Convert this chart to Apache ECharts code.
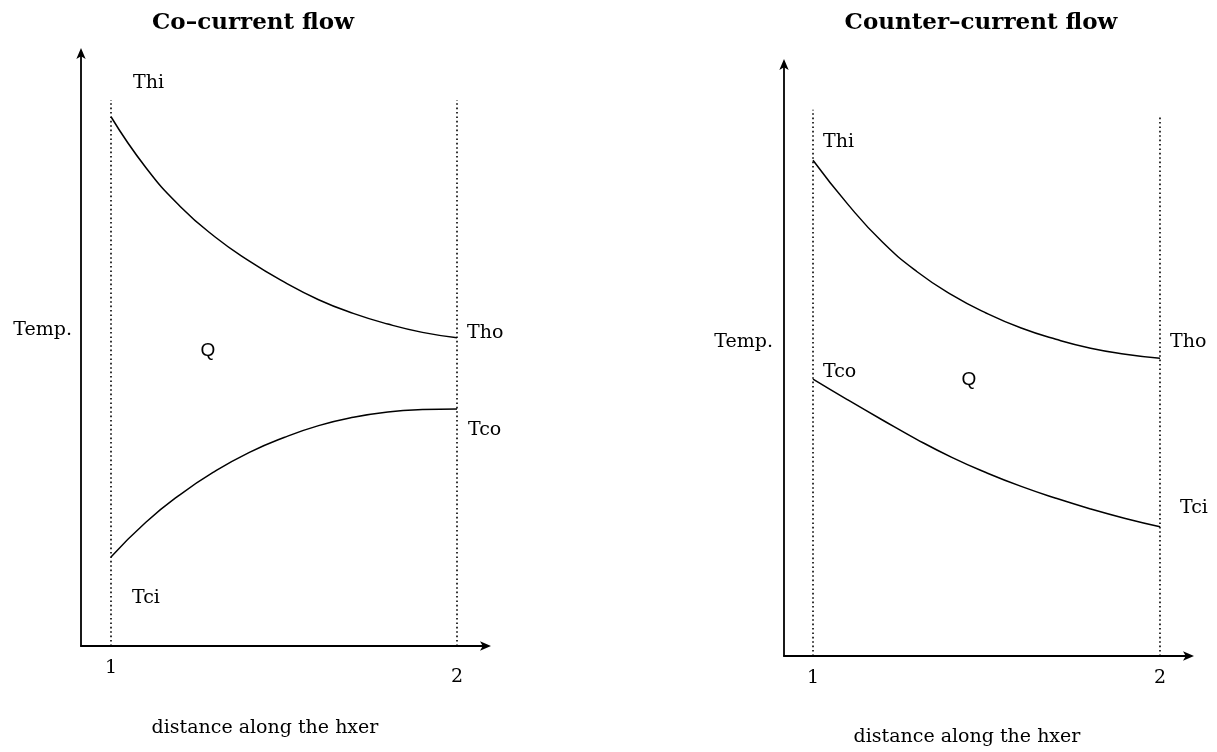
<!DOCTYPE html>
<html><head><meta charset="utf-8">
<script src="https://cdn.jsdelivr.net/npm/echarts@6/dist/echarts.min.js"></script>
<style>html,body{margin:0;padding:0;background:#fff}#c{width:1217px;height:752px}</style>
</head><body><div id="c"></div>
<script>
// distance along the exchanger (position 1 -> position 2)
const positions = [1.0, 1.1, 1.2, 1.3, 1.4, 1.5, 1.6, 1.7, 1.8, 1.9, 2.0];
// co-current flow temperatures (arbitrary units, axis 0-100)
const coHot = [89.1, 80.6, 74.0, 68.9, 64.8, 61.3, 58.3, 56.0, 54.2, 52.8, 51.9];
const coCold = [15.0, 20.8, 25.5, 29.4, 32.6, 35.1, 37.1, 38.5, 39.4, 39.8, 39.9];
// counter-current flow temperatures
const counterHot = [83.6, 76.2, 69.8, 64.8, 60.9, 57.8, 55.3, 53.4, 51.9, 50.9, 50.2];
const counterCold = [46.7, 43.2, 39.8, 36.5, 33.5, 30.9, 28.6, 26.6, 24.8, 23.2, 21.8];
// dotted guide lines at the two ends (top value of each guide)
const guideX = [1, 2];
const coGuideTop = [91.9, 91.9];
const counterGuideTop = [92.1, 91.2];
const xTicks = [1, 2];
const titles = ['Co–current flow', 'Counter–current flow'];
const yName = 'Temp.';
const xName = 'distance along the hxer';

const SERIF = '"DejaVu Serif", "Liberation Serif", serif';
const pair = (xs, ys) => xs.map((x, i) => [x, ys[i]]);

function curve(idx, ys) {
  return {
    type: 'line', xAxisIndex: idx, yAxisIndex: idx, data: pair(positions, ys),
    smooth: 0.5, symbol: 'none', silent: true,
    lineStyle: { color: '#000', width: 1.5 }
  };
}
function guide(idx, x, top) {
  return {
    type: 'line', xAxisIndex: idx, yAxisIndex: idx, data: [[x, 0], [x, top]],
    symbol: 'none', silent: true,
    lineStyle: { color: '#000', width: 1.6, type: [1.6, 2.8] }
  };
}
function xAxis(idx, min, max, padTwo) {
  const base = { fontFamily: SERIF, fontSize: 19, color: '#000' };
  return {
    type: 'value', gridIndex: idx, min: min, max: max,
    axisLine: { show: true, symbol: ['none', 'arrow'], symbolSize: [7, 11], symbolOffset: [0, 4],
      lineStyle: { color: '#000', width: 1.8 } },
    axisTick: { show: false }, splitLine: { show: false },
    axisLabel: { customValues: xTicks, margin: 13, color: '#000', fontFamily: SERIF, fontSize: 19,
      formatter: v => (v === 2 ? '{b|2}' : '{a|1}'),
      rich: { a: base, b: Object.assign({}, base, { padding: [padTwo, 0, 0, 0] }) } }
  };
}
function yAxis(idx) {
  return {
    type: 'value', gridIndex: idx, min: 0, max: 100,
    axisLine: { show: true, symbol: ['none', 'arrow'], symbolSize: [7, 11], symbolOffset: [0, 4],
      lineStyle: { color: '#000', width: 1.8 } },
    axisTick: { show: false }, splitLine: { show: false }, axisLabel: { show: false }
  };
}
function txt(text, x, y, align, font) {
  return {
    type: 'text', x: x, y: y, silent: true,
    style: { text: text, fill: '#000', font: font || ('19px ' + SERIF),
      align: align || 'left', textAlign: align || 'left', verticalAlign: 'middle', textVerticalAlign: 'middle' }
  };
}
const QFONT = '19px "Liberation Sans", Arial, sans-serif';

const chart = echarts.init(document.getElementById('c'), null, { renderer: 'canvas' });
chart.setOption({
  animation: false,
  backgroundColor: '#fff',
  grid: [
    { left: 81, top: 52, width: 406, height: 594 },
    { left: 784, top: 63, width: 406, height: 593 }
  ],
  xAxis: [
    xAxis(0, 0.9133, 2.0867, 9),
    xAxis(1, 0.9164, 2.0865, 0)
  ],
  yAxis: [yAxis(0), yAxis(1)],
  series: [
    guide(0, guideX[0], coGuideTop[0]), guide(0, guideX[1], coGuideTop[1]),
    guide(1, guideX[0], counterGuideTop[0]), guide(1, guideX[1], counterGuideTop[1]),
    curve(0, coHot), curve(0, coCold),
    curve(1, counterHot), curve(1, counterCold)
  ],
  graphic: [
    txt(titles[0], 253, 23, 'center', 'bold 23px ' + SERIF),
    txt(titles[1], 981, 23, 'center', 'bold 23px ' + SERIF),
    txt('Thi', 133, 83), txt(yName, 72, 330, 'right'), txt('Q', 208, 351, 'center', QFONT),
    txt('Tho', 467, 333), txt('Tco', 468, 430), txt('Tci', 132, 598),
    txt(xName, 265, 728, 'center'),
    txt('Thi', 823, 142), txt(yName, 773, 342, 'right'), txt('Q', 969, 380, 'center', QFONT),
    txt('Tho', 1170, 342), txt('Tco', 823, 372), txt('Tci', 1180, 508),
    txt(xName, 967, 737, 'center')
  ]
});
</script>
</body></html>
